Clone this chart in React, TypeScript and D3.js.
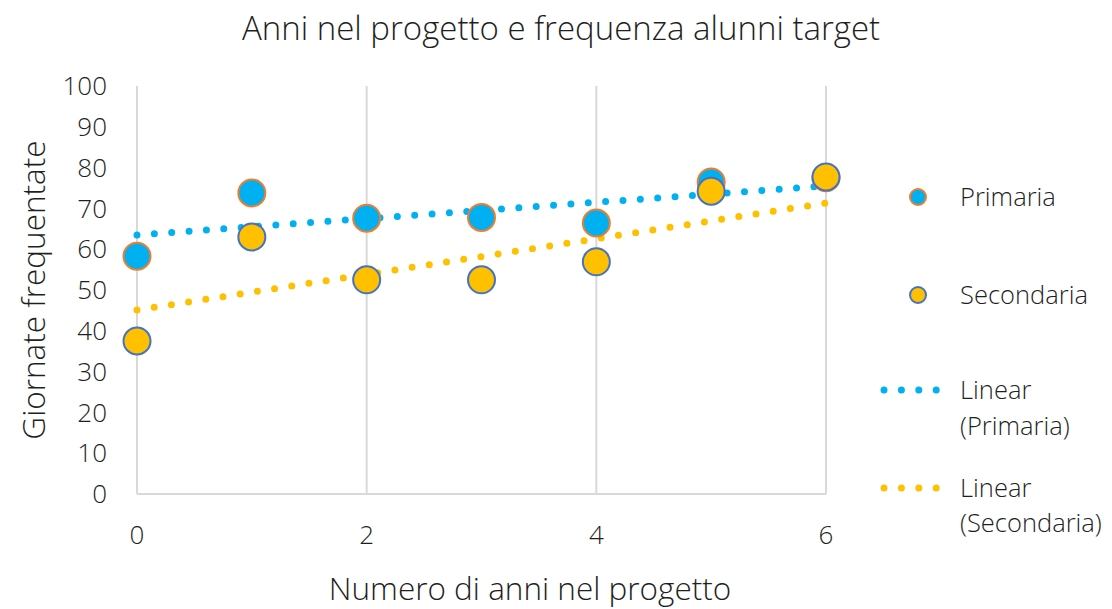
import * as d3 from "d3";

const years = [0, 1, 2, 3, 4, 5, 6];
const primaria = [58.3, 73.8, 67.6, 67.8, 66.4, 76.5, 77.5];
const secondaria = [37.5, 63, 52.5, 52.5, 56.9, 74.2, 77.7];
// trendline values read at x = 0 and x = 6
const trendX = [0, 6];
const trendPrimaria = [63.5, 75.5];
const trendSecondaria = [45.1, 71.3];
const xTicks = [0, 2, 4, 6];
const yTicks = [0, 10, 20, 30, 40, 50, 60, 70, 80, 90, 100];

const BLUE = "#00B0F0";
const ORANGE = "#ED7D31";
const GOLD = "#FFC000";
const NAVY = "#4472C4";
const TEXT = "#1f1f1f";
const FONT = "'Open Sans', 'Segoe UI', sans-serif";

const width = 1112;
const height = 609;

const x = d3.scaleLinear().domain([0, 6]).range([137, 826]);
const y = d3.scaleLinear().domain([0, 100]).range([494, 86]);

const trendLine = d3
    .line<number>()
    .x((_d, i) => x(trendX[i]))
    .y((d) => y(d));

const dotted = {
    fill: "none",
    strokeWidth: 7,
    strokeLinecap: "round" as const,
    strokeDasharray: "0 17.4",
};

export default function App() {
    return (
        <svg
            width={width}
            height={height}
            style={{ position: "absolute", left: 0, top: 0, fontFamily: FONT }}
        >
            <rect width={width} height={height} fill="#fff" />
            <text
                x={561}
                y={40}
                textAnchor="middle"
                fontSize={33}
                fontWeight={300}
                fill={TEXT}
            >
                Anni nel progetto e frequenza alunni target
            </text>

            {/* vertical gridlines */}
            {xTicks.map((t) => (
                <line
                    key={t}
                    x1={x(t)}
                    x2={x(t)}
                    y1={y(100)}
                    y2={y(0)}
                    stroke="#D9D9D9"
                    strokeWidth={2}
                />
            ))}
            <line x1={x(0)} x2={x(6)} y1={y(0)} y2={y(0)} stroke="#D9D9D9" strokeWidth={2} />

            <g fontSize={26} fontWeight={300} fill={TEXT}>
                {yTicks.map((t) => (
                    <text key={t} x={107} y={y(t)} dy="0.35em" textAnchor="end">
                        {t}
                    </text>
                ))}
                {xTicks.map((t) => (
                    <text key={t} x={x(t)} y={535} dy="0.35em" textAnchor="middle">
                        {t}
                    </text>
                ))}
            </g>

            <text
                transform="translate(45,290) rotate(-90)"
                textAnchor="middle"
                fontSize={31.5}
                fontWeight={300}
                fill={TEXT}
            >
                Giornate frequentate
            </text>
            <text
                x={530}
                y={600}
                textAnchor="middle"
                fontSize={31.5}
                fontWeight={300}
                fill={TEXT}
            >
                Numero di anni nel progetto
            </text>

            {/* trendlines */}
            <path d={trendLine(trendPrimaria) ?? ""} stroke={BLUE} {...dotted} />
            <path d={trendLine(trendSecondaria) ?? ""} stroke={GOLD} {...dotted} />

            {/* points */}
            {primaria.map((v, i) => (
                <circle
                    key={"p" + i}
                    cx={x(years[i])}
                    cy={y(v)}
                    r={13.5}
                    fill={BLUE}
                    stroke={ORANGE}
                    strokeWidth={2}
                />
            ))}
            {secondaria.map((v, i) => (
                <circle
                    key={"s" + i}
                    cx={x(years[i])}
                    cy={y(v)}
                    r={13.5}
                    fill={GOLD}
                    stroke={NAVY}
                    strokeWidth={2}
                />
            ))}

            {/* legend */}
            <g fontSize={25.5} fontWeight={300} fill={TEXT}>
                <circle cx={918} cy={197} r={8} fill={BLUE} stroke={ORANGE} strokeWidth={2} />
                <text x={960} y={197} dy="0.35em">Primaria</text>
                <circle cx={918} cy={295} r={8} fill={GOLD} stroke={NAVY} strokeWidth={2} />
                <text x={960} y={295} dy="0.35em">Secondaria</text>

                <line x1={884} x2={938} y1={390} y2={390} stroke={BLUE} {...dotted} />
                <text x={960} y={390} dy="0.35em">Linear</text>
                <text x={960} y={426} dy="0.35em">(Primaria)</text>
                <line x1={884} x2={938} y1={488} y2={488} stroke={GOLD} {...dotted} />
                <text x={960} y={488} dy="0.35em">Linear</text>
                <text x={960} y={523} dy="0.35em">(Secondaria)</text>
            </g>
        </svg>
    );
}
